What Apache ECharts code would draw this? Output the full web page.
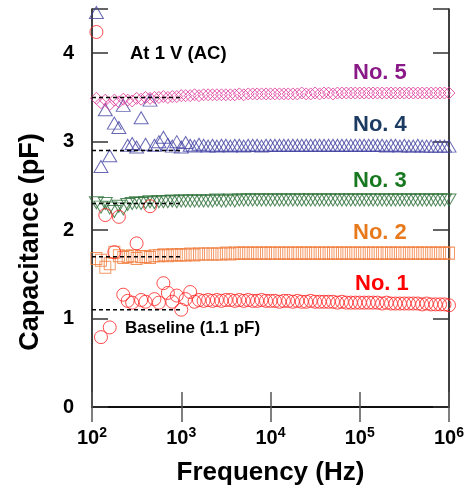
<!DOCTYPE html>
<html>
<head>
<meta charset="UTF-8">
<title>Capacitance vs frequency</title>
<script src="https://cdn.jsdelivr.net/npm/echarts@6/dist/echarts.min.js"></script>
<style>
  body { margin: 0; background: #fff; }
  #chart { width: 470px; height: 491px; }
</style>
</head>
<body>
<div id="chart"></div>
<script>
// measured frequencies (Hz), ~20 points per decade
var freqs = [
  112, 126, 141, 158, 178, 200, 224, 251, 282, 316, 355, 398, 447, 501, 562, 631, 708, 794, 891,
  1000, 1120, 1260, 1410, 1580, 1780, 2000, 2240, 2510, 2820, 3160, 3550, 3980, 4470, 5010, 5620, 6310, 7080, 7940, 8910,
  10000, 11200, 12600, 14100, 15800, 17800, 20000, 22400, 25100, 28200, 31600, 35500, 39800, 44700, 50100, 56200, 63100, 70800, 79400, 89100,
  100000, 112000, 126000, 141000, 158000, 178000, 200000, 224000, 251000, 282000, 316000, 355000, 398000, 447000, 501000, 562000, 631000, 708000, 794000, 891000,
  1000000
];

// capacitance (pF) for each sample
var no5 = [
  3.49, 3.44, 3.47, 3.42, 3.47, 3.45, 3.48, 3.47, 3.46, 3.49, 3.48, 3.50, 3.49, 3.50, 3.50, 3.51, 3.50, 3.51, 3.51,
  3.52, 3.52, 3.52, 3.53, 3.52, 3.53, 3.53, 3.53, 3.53, 3.53, 3.53, 3.53, 3.53, 3.54, 3.53, 3.54, 3.54, 3.54, 3.54, 3.54,
  3.54, 3.54, 3.54, 3.54, 3.54, 3.54, 3.54, 3.55, 3.54, 3.54, 3.55, 3.54, 3.55, 3.55, 3.54, 3.55, 3.55, 3.55, 3.55, 3.55,
  3.55, 3.55, 3.55, 3.55, 3.55, 3.55, 3.55, 3.55, 3.55, 3.55, 3.55, 3.55, 3.55, 3.55, 3.55, 3.55, 3.55, 3.55, 3.55, 3.55,
  3.55
];
var no4 = [
  4.46, 2.72, 3.36, 2.84, 3.21, 3.16, 3.41, 2.96, 2.98, 2.94, 3.27, 2.97, 3.47, 2.96, 3.00, 3.05, 2.97, 2.95, 3.00,
  2.94, 2.99, 2.96, 2.95, 2.97, 2.96, 2.95, 2.96, 2.95, 2.96, 2.96, 2.95, 2.96, 2.96, 2.95, 2.96, 2.96, 2.96, 2.95, 2.96,
  2.96, 2.96, 2.96, 2.96, 2.96, 2.96, 2.96, 2.96, 2.96, 2.96, 2.96, 2.96, 2.96, 2.96, 2.96, 2.96, 2.96, 2.96, 2.96, 2.96,
  2.96, 2.96, 2.96, 2.96, 2.96, 2.96, 2.95, 2.96, 2.96, 2.95, 2.96, 2.95, 2.95, 2.96, 2.95, 2.95, 2.95, 2.95, 2.95, 2.95,
  2.95
];
var no3 = [
  2.31, 2.26, 2.30, 2.25, 2.21, 2.27, 2.24, 2.29, 2.30, 2.31, 2.30, 2.31, 2.32, 2.31, 2.32, 2.32, 2.32, 2.33, 2.32,
  2.33, 2.33, 2.33, 2.33, 2.33, 2.33, 2.33, 2.33, 2.34, 2.33, 2.33, 2.34, 2.33, 2.34, 2.34, 2.34, 2.34, 2.34, 2.34, 2.34,
  2.34, 2.34, 2.34, 2.34, 2.34, 2.34, 2.34, 2.34, 2.34, 2.34, 2.34, 2.34, 2.34, 2.34, 2.34, 2.34, 2.34, 2.34, 2.34, 2.34,
  2.34, 2.34, 2.34, 2.34, 2.34, 2.34, 2.34, 2.34, 2.34, 2.34, 2.34, 2.34, 2.34, 2.34, 2.34, 2.34, 2.34, 2.34, 2.34, 2.34,
  2.34
];
var no2 = [
  1.68, 1.66, 1.58, 1.62, 1.75, 1.71, 1.69, 1.70, 1.71, 1.68, 1.70, 1.70, 1.69, 1.71, 1.71, 1.72, 1.71, 1.72, 1.72,
  1.72, 1.72, 1.73, 1.72, 1.73, 1.73, 1.73, 1.73, 1.73, 1.73, 1.74, 1.73, 1.74, 1.74, 1.74, 1.74, 1.74, 1.74, 1.74, 1.74,
  1.74, 1.74, 1.74, 1.74, 1.74, 1.74, 1.74, 1.74, 1.74, 1.74, 1.74, 1.74, 1.74, 1.74, 1.74, 1.74, 1.74, 1.74, 1.74, 1.74,
  1.74, 1.74, 1.74, 1.74, 1.74, 1.74, 1.74, 1.74, 1.74, 1.74, 1.74, 1.74, 1.74, 1.74, 1.74, 1.74, 1.74, 1.74, 1.74, 1.74,
  1.74
];
var no1 = [
  4.24, 0.79, 2.17, 0.90, 1.75, 2.15, 1.27, 1.20, 1.18, 1.85, 1.21, 1.19, 2.27, 1.22, 1.18, 1.40, 1.29, 1.19, 1.26,
  1.10, 1.22, 1.30, 1.19, 1.21, 1.20, 1.21, 1.20, 1.21, 1.20, 1.21, 1.21, 1.20, 1.21, 1.20, 1.21, 1.20, 1.20, 1.21, 1.20,
  1.20, 1.20, 1.19, 1.20, 1.20, 1.19, 1.20, 1.19, 1.19, 1.20, 1.19, 1.19, 1.19, 1.19, 1.19, 1.18, 1.19, 1.18, 1.18, 1.18,
  1.18, 1.18, 1.18, 1.18, 1.18, 1.17, 1.18, 1.17, 1.17, 1.17, 1.17, 1.17, 1.17, 1.17, 1.16, 1.17, 1.16, 1.16, 1.16, 1.16,
  1.15
];

// dashed reference (baseline) levels, drawn from 10^2 to 10^3
var baseLevels = [3.5, 2.9, 2.3, 1.7, 1.1];
var baseRange = [100, 1000];

var yTicks = [0, 1, 2, 3, 4];

function pairs(vals) {
  return freqs.map(function (f, i) { return [f, vals[i]]; });
}

function hollow(color) {
  return { color: 'rgba(0,0,0,0)', borderColor: color, borderWidth: 1 };
}

var font = 'Liberation Sans, Arial, sans-serif';

var series = [
  { name: 'No. 4', type: 'scatter', data: pairs(no4), symbol: 'triangle', symbolSize: [14, 12], itemStyle: hollow('#4242A2') },
  { name: 'No. 5', type: 'scatter', data: pairs(no5), symbol: 'diamond', symbolSize: [12, 12], itemStyle: hollow('#DD3399') },
  { name: 'No. 3', type: 'scatter', data: pairs(no3), symbol: 'triangle', symbolRotate: 180, symbolSize: [14, 12], itemStyle: hollow('#2A6E36') },
  { name: 'No. 2', type: 'scatter', data: pairs(no2), symbol: 'rect', symbolSize: [11, 12], itemStyle: hollow('#F07A3A') },
  { name: 'No. 1', type: 'scatter', data: pairs(no1), symbol: 'circle', symbolSize: 13, itemStyle: hollow('#FF2020') }
];

baseLevels.forEach(function (lv) {
  series.push({
    type: 'line', silent: true, symbol: 'none', z: 5,
    data: [[baseRange[0], lv], [baseRange[1], lv]],
    lineStyle: { color: '#000', width: 1.5, type: [4, 3] }
  });
});

var option = {
  animation: false,
  backgroundColor: '#fff',
  grid: { left: 92, right: 21, top: 9, bottom: 84, outerBoundsMode: 'none' },
  xAxis: [{
    type: 'log', logBase: 10, min: 100, max: 1000000,
    axisLine: { lineStyle: { color: '#000', width: 1.5 } },
    axisTick: { inside: true, length: 15, lineStyle: { color: '#555', width: 1.5 } },
    minorTick: { show: false },
    splitLine: { show: false },
    axisLabel: {
      margin: 19,
      formatter: function (v) {
        return '{b|10}{s|' + Math.round(Math.log10(v)) + '}';
      },
      rich: {
        b: { fontSize: 20, fontWeight: 'bold', fontFamily: font, color: '#000' },
        s: { fontSize: 14, fontWeight: 'bold', fontFamily: font, color: '#000', padding: [0, 0, 10, 0] }
      }
    },
    name: 'Frequency (Hz)', nameLocation: 'middle', nameGap: 53,
    nameTextStyle: { fontSize: 26, fontWeight: 'bold', fontFamily: font, color: '#000' }
  }, {
    type: 'log', logBase: 10, min: 100, max: 1000000, position: 'top',
    axisLine: { lineStyle: { color: '#000', width: 1.5 } },
    axisTick: { inside: true, length: 15, lineStyle: { color: '#555', width: 1.5 } },
    axisLabel: { show: false }, splitLine: { show: false }
  }],
  yAxis: [{
    type: 'value', min: 0, max: 4.5, interval: 1,
    axisLine: { show: true, lineStyle: { color: '#000', width: 1.5 } },
    axisTick: { show: true, inside: true, length: 16, lineStyle: { color: '#333', width: 1.5 } },
    splitLine: { show: false },
    axisLabel: {
      margin: 18, fontSize: 20, fontWeight: 'bold', fontFamily: font, color: '#000',
      formatter: function (v) { return yTicks.indexOf(v) >= 0 ? String(v) : ''; }
    }
  }, {
    type: 'value', min: 0, max: 4.5, interval: 1, position: 'right',
    axisLine: { show: true, lineStyle: { color: '#000', width: 1.5 } },
    axisTick: { show: true, inside: true, length: 16, lineStyle: { color: '#333', width: 1.5 } },
    axisLabel: { show: false }, splitLine: { show: false }
  }],
  graphic: [
    { type: 'text', x: 31, y: 242, rotation: Math.PI / 2, style: { text: 'Capacitance (pF)', fill: '#000', font: 'bold 27px ' + font, textAlign: 'center', textVerticalAlign: 'middle' } },
    { type: 'text', x: 130, y: 54, style: { text: 'At 1 V (AC)', fill: '#000', font: 'bold 18.5px ' + font, textVerticalAlign: 'middle' } },
    { type: 'text', x: 125, y: 328, style: { text: 'Baseline (1.1 pF)', fill: '#000', font: 'bold 17px ' + font, textVerticalAlign: 'middle' } },
    { type: 'text', x: 353, y: 73, style: { text: 'No. 5', fill: '#8B1A89', font: 'bold 22px ' + font, textVerticalAlign: 'middle' } },
    { type: 'text', x: 353, y: 125, style: { text: 'No. 4', fill: '#1C3B63', font: 'bold 22px ' + font, textVerticalAlign: 'middle' } },
    { type: 'text', x: 353, y: 181, style: { text: 'No. 3', fill: '#17781F', font: 'bold 22px ' + font, textVerticalAlign: 'middle' } },
    { type: 'text', x: 353, y: 233, style: { text: 'No. 2', fill: '#E87A1E', font: 'bold 22px ' + font, textVerticalAlign: 'middle' } },
    { type: 'text', x: 355, y: 284, style: { text: 'No. 1', fill: '#FF0000', font: 'bold 22px ' + font, textVerticalAlign: 'middle' } }
  ],
  series: series
};

var chart = echarts.init(document.getElementById("chart"));
chart.setOption(option);
</script>
</body>
</html>
